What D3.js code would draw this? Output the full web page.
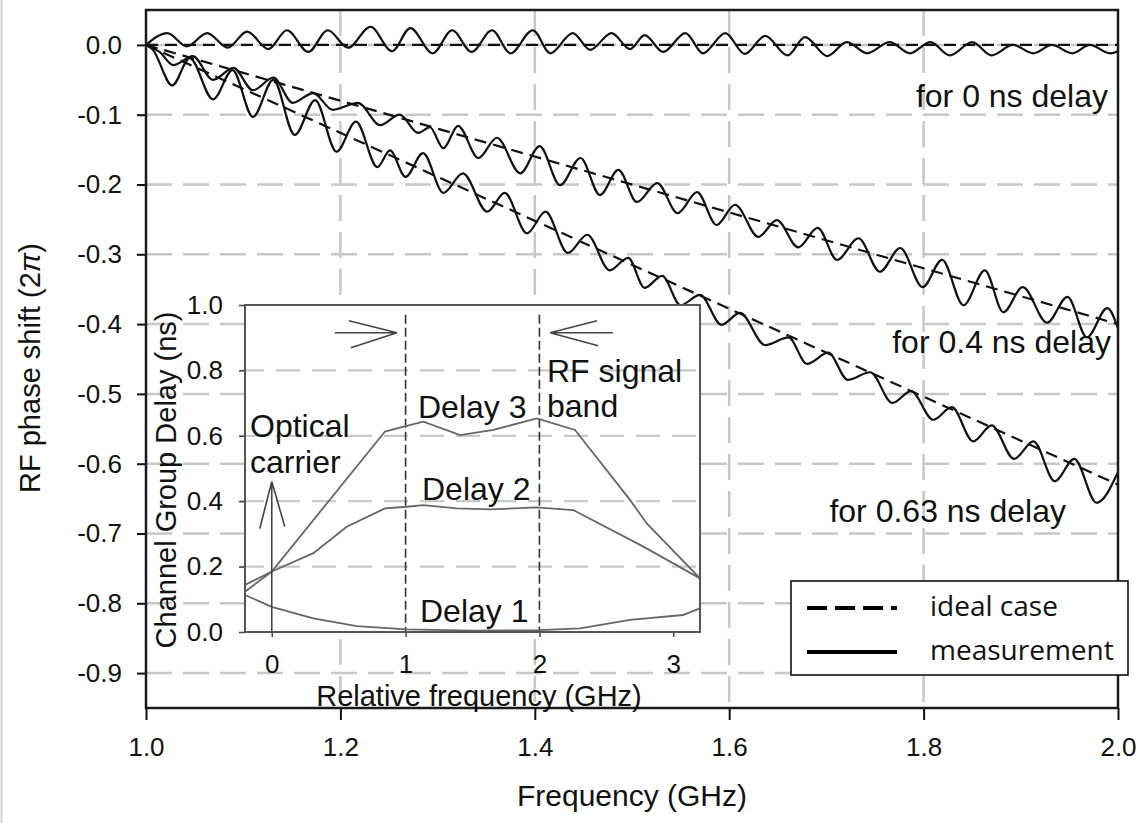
<!DOCTYPE html>
<html>
<head>
<meta charset="utf-8">
<script src="https://cdn.jsdelivr.net/npm/d3@7"></script>
<style>
  body { margin: 0; background: #fff; }
  svg text { font-family: "Liberation Sans", Arial, sans-serif; fill: #111; }
</style>
</head>
<body>
<script>
// ---- main chart data: RF phase shift (2pi) vs frequency (GHz) ----
const xTicks = [1.0, 1.2, 1.4, 1.6, 1.8, 2.0];
const yTicks = [0.0, -0.1, -0.2, -0.3, -0.4, -0.5, -0.6, -0.7, -0.8, -0.9];
const delays = [0, 0.4, 0.63];            // ideal case: phase = -delay * (f - 1)
const delayLabels = ["for 0 ns delay", "for 0.4 ns delay", "for 0.63 ns delay"];

// measurement, 0 ns delay
const freq0 = [1.000,1.022,1.042,1.063,1.084,1.104,1.126,1.145,1.167,1.187,1.208,1.231,1.253,1.272,1.295,1.315,1.335,1.356,1.375,1.398,1.416,1.439,1.457,1.479,1.498,1.513,1.532,1.555,1.573,1.596,1.616,1.637,1.660,1.678,1.701,1.721,1.742,1.765,1.786,1.807,1.827,1.850,1.870,1.892,1.913,1.932,1.953,1.971,1.992,2.000];
const phase0 = [0.000,0.017,-0.002,0.017,-0.004,0.019,-0.006,0.021,-0.010,0.021,-0.004,0.026,-0.009,0.024,-0.012,0.021,-0.010,0.021,-0.012,0.021,-0.012,0.017,-0.007,0.017,-0.006,0.014,-0.010,0.017,-0.012,0.017,-0.013,0.013,-0.015,0.011,-0.016,0.004,-0.012,0.004,-0.012,0.004,-0.015,0.004,-0.015,0.000,-0.012,0.000,-0.012,0.000,-0.012,-0.009];

// measurement, 0.4 ns delay
const freq04 = [1.000,1.014,1.028,1.048,1.069,1.090,1.110,1.131,1.151,1.172,1.192,1.218,1.241,1.261,1.280,1.292,1.306,1.321,1.342,1.361,1.385,1.405,1.426,1.447,1.467,1.486,1.505,1.526,1.547,1.567,1.587,1.606,1.630,1.649,1.671,1.691,1.711,1.733,1.755,1.776,1.799,1.819,1.841,1.863,1.882,1.902,1.927,1.948,1.968,1.989,2.000];
const phase04 = [0.000,-0.010,-0.029,-0.016,-0.050,-0.033,-0.065,-0.047,-0.083,-0.069,-0.093,-0.083,-0.115,-0.100,-0.126,-0.118,-0.148,-0.116,-0.162,-0.133,-0.184,-0.145,-0.201,-0.162,-0.215,-0.179,-0.225,-0.198,-0.241,-0.211,-0.258,-0.229,-0.275,-0.251,-0.290,-0.262,-0.308,-0.277,-0.325,-0.291,-0.347,-0.308,-0.373,-0.323,-0.383,-0.347,-0.398,-0.361,-0.419,-0.377,-0.406];

// measurement, 0.63 ns delay
const freq063 = [1.000,1.007,1.027,1.045,1.069,1.089,1.110,1.131,1.153,1.174,1.196,1.216,1.238,1.251,1.267,1.285,1.306,1.326,1.351,1.369,1.392,1.411,1.434,1.454,1.477,1.496,1.513,1.531,1.550,1.570,1.592,1.611,1.637,1.661,1.680,1.702,1.722,1.745,1.768,1.787,1.810,1.829,1.851,1.870,1.893,1.913,1.935,1.955,1.978,2.000];
const phase063 = [0.000,-0.007,-0.058,-0.019,-0.078,-0.036,-0.103,-0.050,-0.129,-0.079,-0.153,-0.110,-0.175,-0.151,-0.189,-0.155,-0.212,-0.184,-0.239,-0.212,-0.270,-0.239,-0.298,-0.272,-0.323,-0.305,-0.348,-0.331,-0.373,-0.358,-0.401,-0.384,-0.430,-0.419,-0.457,-0.441,-0.480,-0.469,-0.513,-0.496,-0.537,-0.519,-0.568,-0.545,-0.593,-0.568,-0.625,-0.593,-0.656,-0.612];

// ---- inset data: channel group delay (ns) vs relative frequency (GHz) ----
const insetXTicks = [0, 1, 2, 3];
const insetYTicks = [0.0, 0.2, 0.4, 0.6, 0.8, 1.0];
const insetGrid = [0.2, 0.4, 0.6, 0.8];
const bandEdges = [1, 2];
const relFreq3 = [-0.2, 0.0, 0.846, 1.008, 1.133, 1.407, 1.656, 1.98, 2.266, 2.677, 2.802, 3.2];
const delay3   = [0.123, 0.185, 0.613, 0.630, 0.643, 0.602, 0.618, 0.653, 0.618, 0.404, 0.332, 0.164];
const relFreq2 = [-0.2, 0.0, 0.311, 0.560, 0.846, 1.008, 1.133, 1.382, 1.631, 1.98, 2.253, 2.777, 3.2];
const delay2   = [0.144, 0.185, 0.241, 0.322, 0.378, 0.383, 0.388, 0.378, 0.375, 0.381, 0.373, 0.261, 0.164];
const relFreq1 = [-0.2, 0.0, 0.311, 0.635, 1.008, 1.504, 2.0, 2.303, 2.677, 3.073, 3.2];
const delay1   = [0.113, 0.077, 0.042, 0.018, 0.008, 0.004, 0.006, 0.011, 0.037, 0.052, 0.072];

const W = 1138, H = 823;
const svg = d3.select("body").append("svg").attr("width", W).attr("height", H);

// thin border line at the far left of the figure
svg.append("line").attr("x1", 1.5).attr("x2", 1.5).attr("y1", 0).attr("y2", H)
    .attr("stroke", "#cfcfcf").attr("stroke-width", 2);

// scales
const x = d3.scaleLinear().domain([1, 2]).range([146, 1118]);
const y = d3.scaleLinear().domain([-0.95, 0.05]).range([708, 10]);

const grid = svg.append("g").attr("stroke", "#c8c8c8").attr("stroke-width", 2.5)
    .attr("stroke-dasharray", "26,11");
grid.selectAll(".gh").data(yTicks).enter().append("line")
    .attr("x1", x(1)).attr("x2", x(2)).attr("y1", d => y(d)).attr("y2", d => y(d));
grid.selectAll(".gv").data(xTicks.slice(1, -1)).enter().append("line")
    .attr("y1", y(0.05)).attr("y2", y(-0.95)).attr("x1", d => x(d)).attr("x2", d => x(d));

// axes
const fmt = d => d.toFixed(1);
const yAxis = svg.append("g").attr("transform", `translate(${x(1)},0)`)
    .call(d3.axisLeft(y).tickValues(yTicks).tickFormat(fmt).tickSize(9).tickPadding(15));
const xAxis = svg.append("g").attr("transform", `translate(0,${y(-0.95)})`)
    .call(d3.axisBottom(x).tickValues(xTicks).tickFormat(fmt).tickSize(12).tickPadding(18));
[xAxis, yAxis].forEach(a => {
    a.select(".domain").remove();
    a.selectAll(".tick line").attr("stroke", "#111").attr("stroke-width", 2);
    a.selectAll(".tick text").attr("font-size", 26).attr("font-family", null).attr("fill", "#111");
});

// ideal dashed lines
const line = d3.line().x(d => x(d[0])).y(d => y(d[1]));
svg.append("g").selectAll("path").data(delays).enter().append("path")
    .attr("d", dl => line([[1, 0], [2, -dl]]))
    .attr("fill", "none").attr("stroke", "#111").attr("stroke-width", 2.2)
    .attr("stroke-dasharray", "12,7");

// measurement curves
const mline = d3.line().x(d => x(d[0])).y(d => y(d[1])).curve(d3.curveMonotoneX);
const measured = [d3.zip(freq0, phase0), d3.zip(freq04, phase04), d3.zip(freq063, phase063)];
svg.append("g").selectAll("path").data(measured).enter().append("path")
    .attr("d", mline).attr("fill", "none").attr("stroke", "#111").attr("stroke-width", 2.2)
    .attr("stroke-linejoin", "round");

// frame
svg.append("rect").attr("x", x(1)).attr("y", y(0.05))
    .attr("width", x(2) - x(1)).attr("height", y(-0.95) - y(0.05))
    .attr("fill", "none").attr("stroke", "#1a1a1a").attr("stroke-width", 2.5);

// delay labels
const labelPos = [[1108, 107], [1111, 353], [1066, 522]];
svg.append("g").selectAll("text").data(delayLabels).enter().append("text")
    .attr("x", (d, i) => labelPos[i][0]).attr("y", (d, i) => labelPos[i][1])
    .attr("text-anchor", "end").attr("font-size", 32).text(d => d);

// axis titles
svg.append("text").attr("x", (x(1) + x(2)) / 2).attr("y", 806)
    .attr("text-anchor", "middle").attr("font-size", 30).text("Frequency (GHz)");
const yt = svg.append("text").attr("transform", "translate(40,368)rotate(-90)")
    .attr("text-anchor", "middle").attr("font-size", 29);
yt.append("tspan").text("RF phase shift (2");
yt.append("tspan").attr("font-style", "italic").text("π");
yt.append("tspan").text(")");

// ---- inset ----
const ix = d3.scaleLinear().domain([-0.2, 3.2]).range([245, 700]);
const iy = d3.scaleLinear().domain([0, 1]).range([632, 305]);

svg.append("rect").attr("x", ix(-0.2)).attr("y", iy(1))
    .attr("width", ix(3.2) - ix(-0.2)).attr("height", iy(0) - iy(1)).attr("fill", "#fff");

svg.append("g").attr("stroke", "#c8c8c8").attr("stroke-width", 2.2).attr("stroke-dasharray", "24,12")
    .selectAll("line").data(insetGrid).enter().append("line")
    .attr("x1", ix(-0.2) - 5).attr("x2", ix(3.2)).attr("y1", d => iy(d)).attr("y2", d => iy(d));

const iyAxis = svg.append("g").attr("transform", `translate(${ix(-0.2)},0)`)
    .call(d3.axisLeft(iy).tickValues(insetYTicks).tickFormat(fmt).tickSize(6).tickPadding(16));
const ixAxis = svg.append("g").attr("transform", `translate(0,${iy(0)})`)
    .call(d3.axisBottom(ix).tickValues(insetXTicks).tickFormat(d3.format("d")).tickSize(5).tickPadding(18));
[iyAxis, ixAxis].forEach(a => {
    a.select(".domain").remove();
    a.selectAll(".tick line").attr("stroke", "#444").attr("stroke-width", 1.5);
    a.selectAll(".tick text").attr("font-size", 26).attr("font-family", null).attr("fill", "#111");
});

// band edge dashed lines
svg.append("g").selectAll("line").data(bandEdges).enter().append("line")
    .attr("x1", d => ix(d)).attr("x2", d => ix(d)).attr("y1", iy(0.97)).attr("y2", iy(0))
    .attr("stroke", "#333").attr("stroke-width", 1.6).attr("stroke-dasharray", "9,4");

// group delay curves
const iline = d3.line().x(d => ix(d[0])).y(d => iy(d[1]));
const insetSeries = [d3.zip(relFreq1, delay1), d3.zip(relFreq2, delay2), d3.zip(relFreq3, delay3)];
svg.append("g").selectAll("path").data(insetSeries).enter().append("path")
    .attr("d", iline).attr("fill", "none").attr("stroke", "#666").attr("stroke-width", 1.8);

// arrows
const arrows = svg.append("g").attr("stroke", "#444").attr("stroke-width", 1.6).attr("fill", "none");
const ay = iy(0.915);
arrows.append("path").attr("d", `M${ix(0.47)},${ay}H${ix(0.935)}l-48,-12M${ix(0.935)},${ay}l-46,15`);
arrows.append("path").attr("d", `M${ix(2.55)},${ay}H${ix(2.08)}l47,-12M${ix(2.08)},${ay}l48,13`);
arrows.append("path").attr("d", `M${ix(0)},${iy(0)}V${iy(0.46)}l-12,47M${ix(0)},${iy(0.46)}l13,45`);

// frame of the inset
svg.append("rect").attr("x", ix(-0.2)).attr("y", iy(1))
    .attr("width", ix(3.2) - ix(-0.2)).attr("height", iy(0) - iy(1))
    .attr("fill", "none").attr("stroke", "#555").attr("stroke-width", 2);

// inset annotations
const notes = [
    ["Optical", 250, 437], ["carrier", 250, 473],
    ["Delay 3", 418, 418], ["Delay 2", 422, 500], ["Delay 1", 420, 622],
    ["RF signal", 547, 382], ["band", 547, 417]
];
svg.append("g").selectAll("text").data(notes).enter().append("text")
    .attr("x", d => d[1]).attr("y", d => d[2]).attr("font-size", 32).text(d => d[0]);

svg.append("text").attr("x", 479).attr("y", 706).attr("text-anchor", "middle")
    .attr("font-size", 29).text("Relative frequency (GHz)");
svg.append("text").attr("transform", "translate(176,480)rotate(-90)")
    .attr("text-anchor", "middle").attr("font-size", 29).text("Channel Group Delay (ns)");

// ---- legend ----
const lg = svg.append("g");
lg.append("rect").attr("x", 791).attr("y", 581).attr("width", 337).attr("height", 94)
    .attr("fill", "#fff").attr("stroke", "#111").attr("stroke-width", 1.6);
const legendItems = [["ideal case", "20,8"], ["measurement", null]];
legendItems.forEach((d, i) => {
    const yy = 608 + i * 44;
    lg.append("line").attr("x1", 807).attr("x2", 897).attr("y1", yy).attr("y2", yy)
        .attr("stroke", "#000").attr("stroke-width", 4).attr("stroke-dasharray", d[1]);
    lg.append("text").attr("x", 930).attr("y", yy + 8).attr("font-size", 28)
        .style("font-family", "'Open Sans', sans-serif").text(d[0]);
});
</script>
</body>
</html>
